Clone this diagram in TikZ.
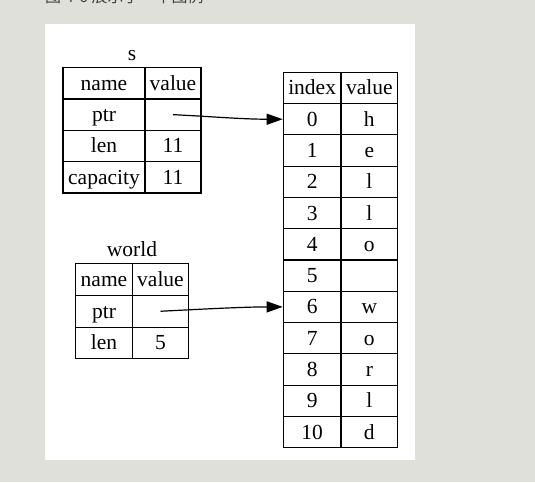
\documentclass[tikz,border=0pt]{standalone}
\usepackage{fontspec}
\setmainfont{Liberation Serif}
\newfontfamily\cjk{Noto Sans CJK SC}
\usetikzlibrary{arrows.meta}

\definecolor{pagegray}{RGB}{224,224,219}

\tikzset{
  cell/.style={draw, line width=1.2pt, inner sep=0pt, minimum height=31.3pt,
    text height=16pt, text depth=2pt, font=\fontsize{21.5}{21.5}\selectfont},
  title/.style={anchor=base, font=\fontsize{21.5}{21.5}\selectfont},
  ptr/.style={line width=1.2pt, -{Triangle[length=16pt,width=11pt]}}
}

\begin{document}
\begin{tikzpicture}[x=1pt,y=-1pt]
  % Achtergrond
  \fill[pagegray] (0,0) rectangle (535,482);
  \useasboundingbox (0,0) rectangle (535,482);
  \fill[white] (45,24) rectangle (415,460);
  \node[anchor=base west, inner sep=0pt, text=black!75, font=\cjk\fontsize{16}{16}\selectfont] (caption) at (45,2.5) {图 4-6 展示了一个图例};

  % Tabel s
  \node[title] (s) at (132,60) {s};
  \foreach \nm/\val [count=\i from 0] in {name/value, ptr/, len/11, capacity/11} {
    \node[cell, minimum width=82pt] (s-n\i) at (104,83.35+31.3*\i) {\nm};
    \node[cell, minimum width=56pt] (s-v\i) at (173,83.35+31.3*\i) {\val};
  }

  % Tabel world
  \node[title] (world) at (132,256) {world};
  \foreach \nm/\val [count=\i from 0] in {name/value, ptr/, len/5} {
    \node[cell, minimum width=56.6pt, minimum height=31.7pt] (w-n\i) at (104,279.55+31.7*\i) {\nm};
    \node[cell, minimum width=56.4pt, minimum height=31.7pt] (w-v\i) at (160.5,279.55+31.7*\i) {\val};
  }

  % Tabel heap
  \node[cell, minimum width=57.7pt, minimum height=31.28pt] (h-ih) at (312.15,87.94) {index};
  \node[cell, minimum width=56.7pt, minimum height=31.28pt] (h-vh) at (369.35,87.94) {value};
  \foreach \ch [count=\i from 0] in {h,e,l,l,o,,w,o,r,l,d} {
    \node[cell, minimum width=57.7pt, minimum height=31.28pt] (h-i\i) at (312.15,119.22+31.28*\i) {\i};
    \node[cell, minimum width=56.7pt, minimum height=31.28pt] (h-v\i) at (369.35,119.22+31.28*\i) {\ch};
  }

  % Pijlen
  \draw[ptr] (s-v1.center) .. controls +(40,2) and +(-40,0) .. (h-i0.west);
  \draw[ptr] (w-v1.center) .. controls +(40,-2) and +(-40,0) .. (h-i6.west);
\end{tikzpicture}
\end{document}
